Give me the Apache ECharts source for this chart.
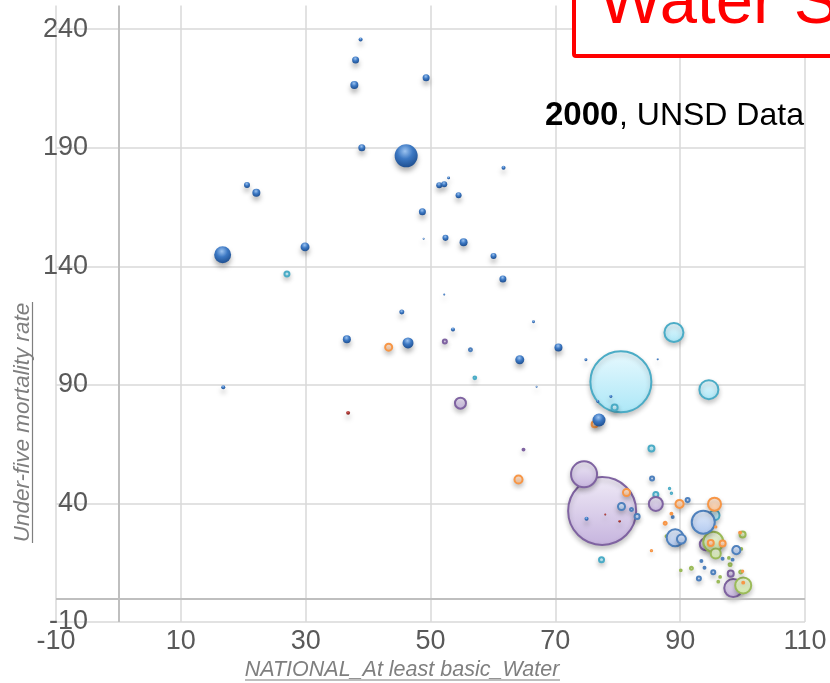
<!DOCTYPE html>
<html>
<head>
<meta charset="utf-8">
<script src="https://cdn.jsdelivr.net/npm/echarts@6/dist/echarts.min.js"></script>
<style>
html,body{margin:0;padding:0;background:#fff;}
#chart{width:830px;height:683px;}
</style>
</head>
<body>
<div id="chart"></div>
<script>
// ---- Axis ticks ----
const xTicks = [-10, 10, 30, 50, 70, 90, 110];
const yTicks = [-10, 40, 90, 140, 190, 240];

// ---- Sub-Saharan Africa (dark blue spheres) ----
const ssaWater = [38.8, 38.0, 37.8, 49.3, 39.0, 46.1, 61.7, 52.9, 51.4, 52.2, 54.5, 20.6, 22.1, 48.7, 48.9, 52.4, 55.3, 60.1, 61.6, 52.2, 16.7, 29.9, 45.4, 66.5, 53.6, 36.6, 46.4, 64.3, 70.5, 67.0, 16.8, 74.9, 86.4, 78.9, 76.8, 77.0, 75.0];
const ssaU5    = [235.7, 227.0, 216.5, 219.5, 190.0, 186.6, 181.6, 177.3, 174.2, 174.6, 170.0, 174.3, 171.0, 163.0, 151.6, 152.0, 150.2, 144.4, 134.7, 128.1, 144.9, 148.2, 120.7, 116.6, 113.4, 109.2, 107.7, 100.6, 105.8, 89.2, 89.0, 100.6, 100.8, 85.1, 83.0, 75.2, 33.5];
const ssaPop   = [4.2, 12.8, 16.7, 12.8, 12.8, 138, 4.2, 2.3, 9.4, 9.4, 9.4, 9.4, 16.7, 12.8, 1.0, 9.4, 16.7, 9.4, 12.8, 1.0, 75, 21, 6.5, 2.3, 4.2, 16.7, 31.5, 21, 16.7, 1.0, 4.2, 2.3, 1.0, 2.3, 2.3, 44, 4.2];

// ---- Southern Asia (light cyan) ----
const saWater = [80.5, 89.0, 94.6, 27.0, 79.5, 85.4, 86.1, 57.1, 77.4, 95.5, 88.3, 88.6];
const saU5    = [91.3, 112.1, 88.0, 136.8, 80.5, 63.2, 43.8, 93.0, 16.3, 35.0, 46.3, 44.3];
const saPop   = [969, 94, 94, 6.5, 9.4, 9.4, 6.5, 2.0, 6.5, 26, 0.5, 0.5];

// ---- Eastern & South-Eastern Asia (purple) ----
const easWater = [77.5, 74.6, 86.1, 98.5, 94.1, 98.1, 54.8, 52.3, 64.9];
const easU5    = [36.8, 52.3, 39.8, 4.3, 22.8, 10.4, 82.3, 108.3, 62.7];
const easPop   = [1204, 176, 51, 84, 37, 9.4, 31.5, 4.2, 1.0];

// ---- Latin America & Caribbean (light blue) ----
const lacWater = [93.7, 89.2, 90.2, 99.0, 80.6, 82.2, 83.1, 85.5, 91.2, 56.4, 93.0, 95.3, 93.4, 93.9, 96.8, 98.4, 88.8];
const lacU5    = [32.1, 25.5, 25.0, 20.3, 38.7, 37.4, 34.5, 50.5, 41.4, 104.8, 8.3, 11.0, 15.7, 12.9, 16.7, 16.3, 34.3];
const lacPop   = [138, 75, 21, 17, 12.8, 2.3, 6.5, 4.2, 4.2, 2.3, 4.2, 4.2, 1.0, 1.0, 1.0, 1.0, 1.0];

// ---- Northern Africa & Western Asia (orange) ----
const nawWater = [95.5, 89.9, 81.4, 43.3, 64.1, 94.9, 96.8, 87.6, 88.6, 85.4, 95.7, 99.6, 100.1, 100.0, 76.3];
const nawU5    = [39.7, 39.8, 44.6, 105.9, 50.1, 23.3, 23.1, 31.6, 35.7, 20.1, 30.1, 27.7, 6.6, 11.4, 73.4];
const nawPop   = [44, 17, 12.8, 12.8, 17, 9.4, 9.4, 2.3, 1.0, 0.5, 0.5, 1.0, 1.0, 0.5, 9.4];

// ---- Europe & Northern America (green) ----
const enaWater = [95.3, 100.1, 95.7, 100.0, 98.0, 91.8, 99.7, 97.8, 99.8, 90.1, 96.4, 96.1, 87.8];
const enaU5    = [23.8, 5.4, 18.9, 26.9, 14.2, 12.7, 11.1, 17.0, 20.8, 11.8, 9.0, 7.0, 26.2];
const enaPop   = [104, 67, 26, 9.4, 2.3, 2.3, 2.3, 0.8, 0.8, 0.8, 0.8, 0.8, 0.8];

// ---- Oceania (dark red) ----
const ocWater = [36.8, 80.3, 78.0];
const ocU5    = [78.2, 32.5, 35.3];
const ocPop   = [4.0, 1.5, 1.0];

const K = 1.96;
function build(xs, ys, ps) {
  const d = xs.map((x, i) => [x, ys[i], ps[i]]);
  d.sort((a, b) => b[2] - a[2]);
  return d;
}
const FONT = "'Liberation Sans', Arial, sans-serif";

function ringSeries(name, xs, ys, ps, top, bottom, border) {
  return {
    name: name, type: 'scatter', data: build(xs, ys, ps),
    symbolSize: v => K * Math.sqrt(v[2]),
    itemStyle: {
      color: { type: 'linear', x: 0, y: 0, x2: 0, y2: 1, colorStops: [{ offset: 0, color: top }, { offset: 1, color: bottom }] },
      borderColor: border, borderWidth: 2, opacity: 1,
      shadowBlur: 5, shadowOffsetY: 3, shadowColor: 'rgba(0,0,0,0.22)'
    },
    emphasis: { disabled: true }, silent: true
  };
}
function sphereSeries(name, xs, ys, ps, light, mid, dark) {
  return {
    name: name, type: 'scatter', data: build(xs, ys, ps),
    symbolSize: v => K * Math.sqrt(v[2]),
    itemStyle: {
      color: { type: 'radial', x: 0.45, y: 0.3, r: 0.75, colorStops: [{ offset: 0, color: light }, { offset: 0.45, color: mid }, { offset: 1, color: dark }] },
      opacity: 1,
      shadowBlur: 5, shadowOffsetY: 4, shadowColor: 'rgba(0,0,0,0.3)'
    },
    emphasis: { disabled: true }, silent: true
  };
}

const chart = echarts.init(document.getElementById('chart'), null, { renderer: 'canvas' });
const gridColor = '#d9d9d9';
chart.setOption({
  animation: false,
  backgroundColor: '#ffffff',
  grid: { left: 56, right: 25, top: 5.5, bottom: 61, containLabel: false, outerBoundsMode: 'none' },
  xAxis: {
    type: 'value', min: -10, max: 110, interval: 20,
    axisLine: { show: false, onZero: false },
    axisTick: { show: false },
    splitLine: { show: true, lineStyle: { color: gridColor, width: 1.5 } },
    axisLabel: {
      fontSize: 27, color: '#595959', fontFamily: FONT, margin: 6,
      showMinLabel: true, showMaxLabel: true, hideOverlap: false
    }
  },
  yAxis: {
    type: 'value', min: -10, max: 250, interval: 50,
    axisLine: { show: false, onZero: false },
    axisTick: { show: false },
    splitLine: { show: true, lineStyle: { color: [gridColor, gridColor, gridColor, gridColor, gridColor, gridColor, 'rgba(0,0,0,0)'], width: 1.5 } },
    axisLabel: {
      fontSize: 27, color: '#595959', fontFamily: FONT, margin: -32, align: 'right',
      showMinLabel: true, showMaxLabel: true, hideOverlap: false,
      formatter: v => (yTicks.indexOf(v) >= 0 ? String(v) : '')
    }
  },
  series: [
    {
      type: 'scatter', data: [], silent: true,
      markLine: {
        silent: true, symbol: ['none', 'none'], label: { show: false },
        lineStyle: { color: '#bfbfbf', width: 2, type: 'solid' },
        emphasis: { disabled: true },
        data: [{ yAxis: 0 }, { xAxis: 0 }]
      }
    },
    ringSeries('Southern Asia', saWater, saU5, saPop, '#e8f9fe', '#ace7f7', '#4bacc6'),
    ringSeries('Eastern and South-Eastern Asia', easWater, easU5, easPop, '#f0ebf7', '#c6b4de', '#7f63a1'),
    ringSeries('Europe and Northern America', enaWater, enaU5, enaPop, '#f3fae6', '#d5ecad', '#9bbb59'),
    ringSeries('Latin America and the Caribbean', lacWater, lacU5, lacPop, '#e4edfb', '#b1c9f0', '#4f81bd'),
    ringSeries('Northern Africa and Western Asia', nawWater, nawU5, nawPop, '#feeadb', '#fcc79b', '#f79646'),
    sphereSeries('Oceania', ocWater, ocU5, ocPop, '#d96a66', '#a8302c', '#6e1614'),
    sphereSeries('Sub-Saharan Africa', ssaWater, ssaU5, ssaPop, '#9cc3f0', '#3c78c3', '#1b4a8a')
  ],
  graphic: [
    { type: 'rect', z: 100, shape: { x: 574, y: -20, width: 300, height: 76, r: 2 },
      style: { fill: '#ffffff', stroke: '#ff0000', lineWidth: 4 } },
    { type: 'text', z: 101, x: 599, y: 38,
      style: { text: 'Water S', font: "67px 'Liberation Sans', Arial, sans-serif", fill: '#ff0000', textAlign: 'left', align: 'left', textVerticalAlign: 'bottom', verticalAlign: 'bottom' } },
    { type: 'text', z: 101, x: 545, y: 116,
      style: { text: '2000', font: "bold 33px 'Liberation Sans', Arial, sans-serif", fill: '#000000', textAlign: 'left', align: 'left', textVerticalAlign: 'middle', verticalAlign: 'middle' } },
    { type: 'text', z: 101, x: 619, y: 116,
      style: { text: ', UNSD Data', font: "32px 'Liberation Sans', Arial, sans-serif", fill: '#000000', textAlign: 'left', align: 'left', textVerticalAlign: 'middle', verticalAlign: 'middle' } },
    { type: 'text', z: 101, x: 402, y: 670,
      style: { text: 'NATIONAL_At least basic_Water', font: "italic 21.5px 'Liberation Sans', Arial, sans-serif", fill: '#7f7f7f', textAlign: 'center', align: 'center', textVerticalAlign: 'middle', verticalAlign: 'middle' } },
    { type: 'line', z: 101, shape: { x1: 245, y1: 680, x2: 560, y2: 680 }, style: { stroke: '#7f7f7f', lineWidth: 1.2 } },
    { type: 'text', z: 101, x: 22.5, y: 422.5, rotation: Math.PI / 2,
      style: { text: 'Under-five mortality rate', font: "italic 22.5px 'Liberation Sans', Arial, sans-serif", fill: '#7f7f7f', textAlign: 'center', align: 'center', textVerticalAlign: 'middle', verticalAlign: 'middle' } },
    { type: 'line', z: 101, shape: { x1: 32.5, y1: 302, x2: 32.5, y2: 543 }, style: { stroke: '#7f7f7f', lineWidth: 1.2 } }
  ]
});
</script>
</body>
</html>
